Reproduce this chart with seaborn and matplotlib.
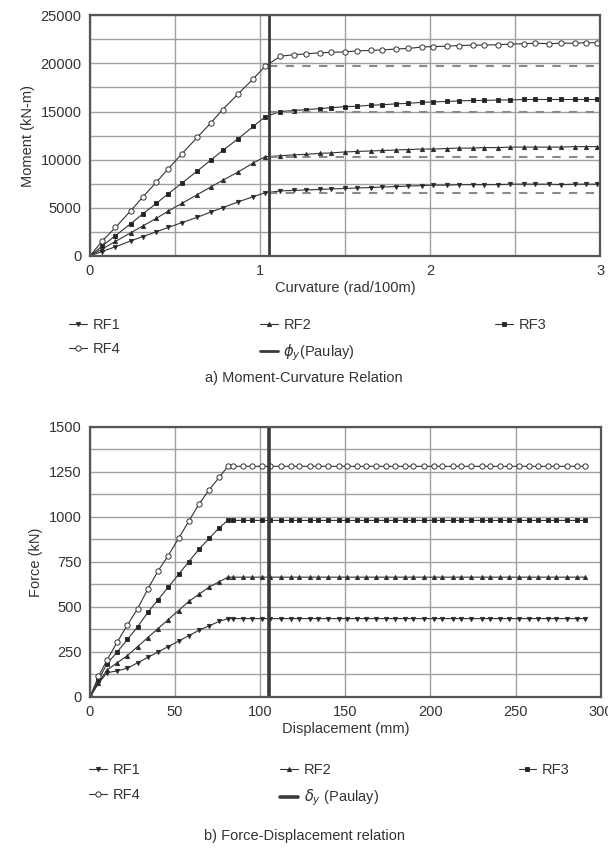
import numpy as np
import pandas as pd
import seaborn as sns
import matplotlib
matplotlib.use("Agg")
import matplotlib.pyplot as plt
from matplotlib.ticker import MultipleLocator

# ---------------- data: a) moment-curvature ----------------
curv_rise = [0.0, 0.07, 0.15, 0.24, 0.31, 0.39, 0.46, 0.54, 0.63, 0.71, 0.78, 0.87, 0.96, 1.03]
curv_plat = [1.12, 1.20, 1.27, 1.35, 1.42, 1.50, 1.57, 1.65, 1.72, 1.80, 1.87, 1.95, 2.02,
             2.10, 2.17, 2.25, 2.32, 2.40, 2.47, 2.55, 2.62, 2.70, 2.77, 2.85, 2.92, 2.98]

m_rf1 = [0, 450, 950, 1550, 2000, 2500, 2950, 3450, 4000, 4550, 5000, 5600, 6150, 6550,
         6750, 6800, 6850, 6900, 6950, 7000, 7050, 7100, 7150, 7200, 7250, 7300, 7350,
         7350, 7400, 7400, 7400, 7400, 7450, 7450, 7450, 7450, 7400, 7450, 7450, 7450]
m_rf2 = [0, 700, 1500, 2400, 3100, 3900, 4650, 5450, 6350, 7150, 7850, 8700, 9650, 10300,
         10400, 10500, 10550, 10650, 10700, 10800, 10850, 10900, 10950, 11000, 11050, 11100, 11100,
         11150, 11200, 11200, 11250, 11250, 11300, 11300, 11300, 11300, 11300, 11350, 11350, 11350]
m_rf3 = [0, 1000, 2100, 3350, 4350, 5450, 6450, 7550, 8800, 9950, 10950, 12150, 13450, 14450,
         15000, 15100, 15200, 15300, 15400, 15500, 15550, 15650, 15700, 15800, 15850, 15950, 16000,
         16050, 16100, 16150, 16150, 16200, 16200, 16250, 16250, 16250, 16250, 16250, 16250, 16250]
m_rf4 = [0, 1500, 2950, 4700, 6100, 7650, 9050, 10600, 12300, 13800, 15200, 16800, 18400, 19700,
         20750, 20900, 21000, 21100, 21150, 21200, 21300, 21350, 21400, 21500, 21550, 21700, 21750,
         21800, 21850, 21900, 21900, 21950, 22000, 22050, 22100, 22050, 22100, 22100, 22150, 22150]

# idealised yield moments (dashed) and Paulay yield curvature
curv_yield_span = [1.05, 3.0]
m_yield = [6500, 10300, 14900, 19750]
phi_y = 1.05

# ---------------- data: b) force-displacement ----------------
disp_rise = [0, 5, 10, 16, 22, 28, 34, 40, 46, 52, 58, 64, 70, 76, 81]
disp_plat = [84, 90, 95, 101, 106, 112, 118, 123, 129, 134, 140, 146, 151, 157, 162, 168, 174,
             179, 185, 190, 196, 202, 207, 213, 218, 224, 230, 235, 241, 246, 252, 258, 263,
             269, 274, 280, 286, 291]

f_rise_rf1 = [0, 75, 135, 145, 160, 190, 220, 250, 280, 310, 340, 370, 395, 420, 435]
f_rise_rf2 = [0, 80, 150, 190, 230, 280, 330, 380, 430, 480, 530, 570, 610, 640, 665]
f_rise_rf3 = [0, 95, 185, 250, 320, 390, 470, 540, 610, 680, 750, 820, 880, 940, 980]
f_rise_rf4 = [0, 115, 205, 305, 400, 490, 600, 700, 785, 880, 975, 1070, 1150, 1220, 1280]
f_plat = {"RF1": 435, "RF2": 665, "RF3": 980, "RF4": 1280}
delta_y = 105

labels = ["RF1", "RF2", "RF3", "RF4"]
markers = {"RF1": "v", "RF2": "^", "RF3": "s", "RF4": "o"}

sns.set_style("white")
plt.rcParams["font.family"] = ["Liberation Sans", "DejaVu Sans"]
plt.rcParams["mathtext.fontset"] = "dejavusans"
txt = "#333333"

fig = plt.figure(figsize=(6.08, 8.5), dpi=100)
ax1 = fig.add_axes([0.148, 0.699, 0.839, 0.283])
ax2 = fig.add_axes([0.148, 0.180, 0.840, 0.318])


def style_axes(ax):
    ax.grid(True, which="both", color="#a0a0a0", linewidth=1.0)
    ax.set_axisbelow(True)
    for s in ax.spines.values():
        s.set_color("#555555")
        s.set_linewidth(1.6)
    ax.tick_params(axis="both", which="both", direction="out", length=4, width=1,
                   colors="#555555", labelcolor=txt, labelsize=10.5, pad=2)


def draw_series(ax, x, y, name):
    face = "white" if name == "RF4" else "#222222"
    size = 3.8 if name == "RF4" else 3.0
    sns.lineplot(x=x, y=y, ax=ax, color="#333333", linewidth=0.8, marker=markers[name],
                 markersize=size, markerfacecolor=face, markeredgecolor="#333333",
                 markeredgewidth=0.7, estimator=None, sort=False, label=name)


# ---------- a) Moment-Curvature ----------
moments = {"RF1": m_rf1, "RF2": m_rf2, "RF3": m_rf3, "RF4": m_rf4}
curv_all = curv_rise + curv_plat
for name in labels:
    draw_series(ax1, curv_all, moments[name], name)
for my in m_yield:
    sns.lineplot(x=curv_yield_span, y=[my, my], ax=ax1, color="#8a8a8a", linewidth=1.5,
                 linestyle=(0, (4, 4)), label="_nolegend_")
ax1.axvline(phi_y, color="#3a3a3a", linewidth=2.6, label=r"$\phi_y$(Paulay)")

ax1.set_xlim(0, 3)
ax1.set_ylim(0, 25000)
ax1.set_xticks([0, 1, 2, 3])
ax1.xaxis.set_minor_locator(MultipleLocator(0.5))
ax1.yaxis.set_major_locator(MultipleLocator(5000))
ax1.yaxis.set_minor_locator(MultipleLocator(2500))
style_axes(ax1)
ax1.set_xlabel("Curvature (rad/100m)", fontsize=10.5, color=txt, labelpad=2)
ax1.set_ylabel("Moment (kN-m)", fontsize=10.5, color=txt, labelpad=4)
ax1.get_legend().remove()

h, l = ax1.get_legend_handles_labels()
hd = dict(zip(l, h))
hd[r"$\phi_y$(Paulay)"].set_linewidth(2.0)
order = ["RF1", "RF4", "RF2", r"$\phi_y$(Paulay)", "RF3"]
fig.legend([hd[k] for k in order], order, loc="upper left", bbox_to_anchor=(0.092, 0.641),
           ncol=3, frameon=False, fontsize=10.5, handlelength=1.2, handletextpad=0.4,
           columnspacing=9.6, labelspacing=0.7, labelcolor=txt)
fig.text(0.50, 1 - 378 / 850, "a) Moment-Curvature Relation", ha="center", va="center",
         fontsize=10.5, color=txt)

# ---------- b) Force-Displacement ----------
f_rise = {"RF1": f_rise_rf1, "RF2": f_rise_rf2, "RF3": f_rise_rf3, "RF4": f_rise_rf4}
disp_all = disp_rise + disp_plat
for name in labels:
    draw_series(ax2, disp_all, f_rise[name] + [f_plat[name]] * len(disp_plat), name)
ax2.axvline(delta_y, color="#3a3a3a", linewidth=2.6, label=r"$\delta_y$ (Paulay)")

ax2.set_xlim(0, 300)
ax2.set_ylim(0, 1500)
ax2.xaxis.set_major_locator(MultipleLocator(50))
ax2.yaxis.set_major_locator(MultipleLocator(250))
ax2.yaxis.set_minor_locator(MultipleLocator(125))
style_axes(ax2)
ax2.set_xlabel("Displacement (mm)", fontsize=10.5, color=txt, labelpad=2)
ax2.set_ylabel("Force (kN)", fontsize=10.5, color=txt, labelpad=4)
ax2.get_legend().remove()

h, l = ax2.get_legend_handles_labels()
hd = dict(zip(l, h))
order = ["RF1", "RF4", "RF2", r"$\delta_y$ (Paulay)", "RF3"]
fig.legend([hd[k] for k in order], order, loc="upper left", bbox_to_anchor=(0.125, 0.118),
           ncol=3, frameon=False, fontsize=10.5, handlelength=1.2, handletextpad=0.4,
           columnspacing=9.6, labelspacing=0.75, labelcolor=txt)
fig.text(0.50, 1 - 836 / 850, "b) Force-Displacement relation", ha="center", va="center",
         fontsize=10.5, color=txt)

fig.savefig("out.png", dpi=100)
